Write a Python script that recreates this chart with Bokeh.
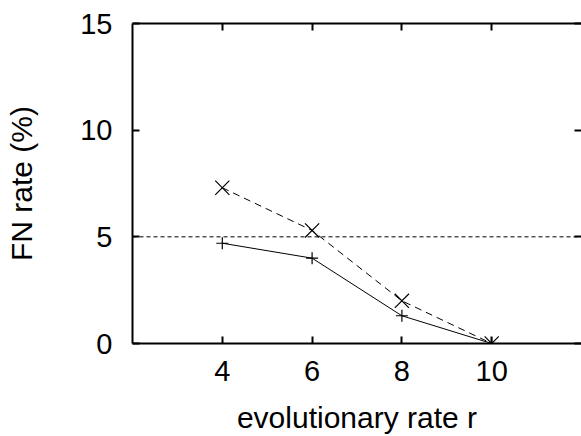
from bokeh.plotting import figure
from bokeh.models import Range1d, LinearAxis, FixedTicker, Span, CustomJSTickFormatter
from bokeh.embed import file_html
from bokeh.resources import INLINE

# data
rates = [4, 6, 8, 10]
fn_plus = [4.7, 4.0, 1.3, 0.0]     # solid line, "+" markers
fn_cross = [7.3, 5.3, 2.0, 0.0]    # dashed line, "x" markers
threshold = 5
x_ticks = [4, 6, 8, 10]
y_ticks = [0, 5, 10, 15]

FONT = "Liberation Sans"
FS = "29px"
FS_LABEL = "30px"

p = figure(width=581, height=436, output_backend="svg", toolbar_location=None,
           x_range=Range1d(2, 12), y_range=Range1d(0, 15),
           x_axis_label="evolutionary rate r", y_axis_label="FN rate (%)",
           min_border_left=132, min_border_top=23, min_border_right=0,
           min_border_bottom=0)
p.outline_line_color = None
p.background_fill_color = "white"
p.border_fill_color = "white"
p.xgrid.visible = False
p.ygrid.visible = False

def style_axis(ax, ticks, show_labels=True, line=True):
    ax.ticker = FixedTicker(ticks=ticks)
    ax.major_tick_in = 7
    ax.major_tick_out = 0
    ax.minor_tick_in = 0
    ax.minor_tick_out = 0
    ax.major_tick_line_width = 2
    ax.major_tick_line_color = "black"
    if line:
        ax.axis_line_width = 2
        ax.axis_line_color = "black"
    else:
        ax.axis_line_color = None
    ax.major_label_text_font = FONT
    ax.major_label_text_color = "black"
    ax.axis_label_text_font = FONT
    ax.axis_label_text_font_style = "normal"
    ax.axis_label_text_color = "black"
    ax.axis_label_text_font_size = FS_LABEL
    ax.major_label_text_font_size = FS
    if not show_labels:
        ax.formatter = CustomJSTickFormatter(code="return ''")
        ax.major_label_standoff = 0

style_axis(p.xaxis[0], x_ticks)
p.xaxis[0].major_label_standoff = 17
p.xaxis[0].axis_label_standoff = 17
style_axis(p.yaxis[0], y_ticks)
p.yaxis[0].major_label_standoff = 20
p.yaxis[0].axis_label_standoff = 39

top = LinearAxis()
style_axis(top, x_ticks, show_labels=False)
p.add_layout(top, "above")
right = LinearAxis()
style_axis(right, y_ticks, show_labels=False, line=False)
p.add_layout(right, "right")

p.add_layout(Span(location=threshold, dimension="width", line_color="black",
                  line_width=1, line_dash="4 3"))

p.line(rates, fn_plus, line_color="black", line_width=1)
p.scatter(rates, fn_plus, marker="cross", size=12, line_color="black", line_width=1.2)
p.line(rates, fn_cross, line_color="black", line_width=1, line_dash="7 5")
p.scatter(rates, fn_cross, marker="x", size=20, line_color="black", line_width=1.2)

open("out.html", "w").write(file_html(p, INLINE))
